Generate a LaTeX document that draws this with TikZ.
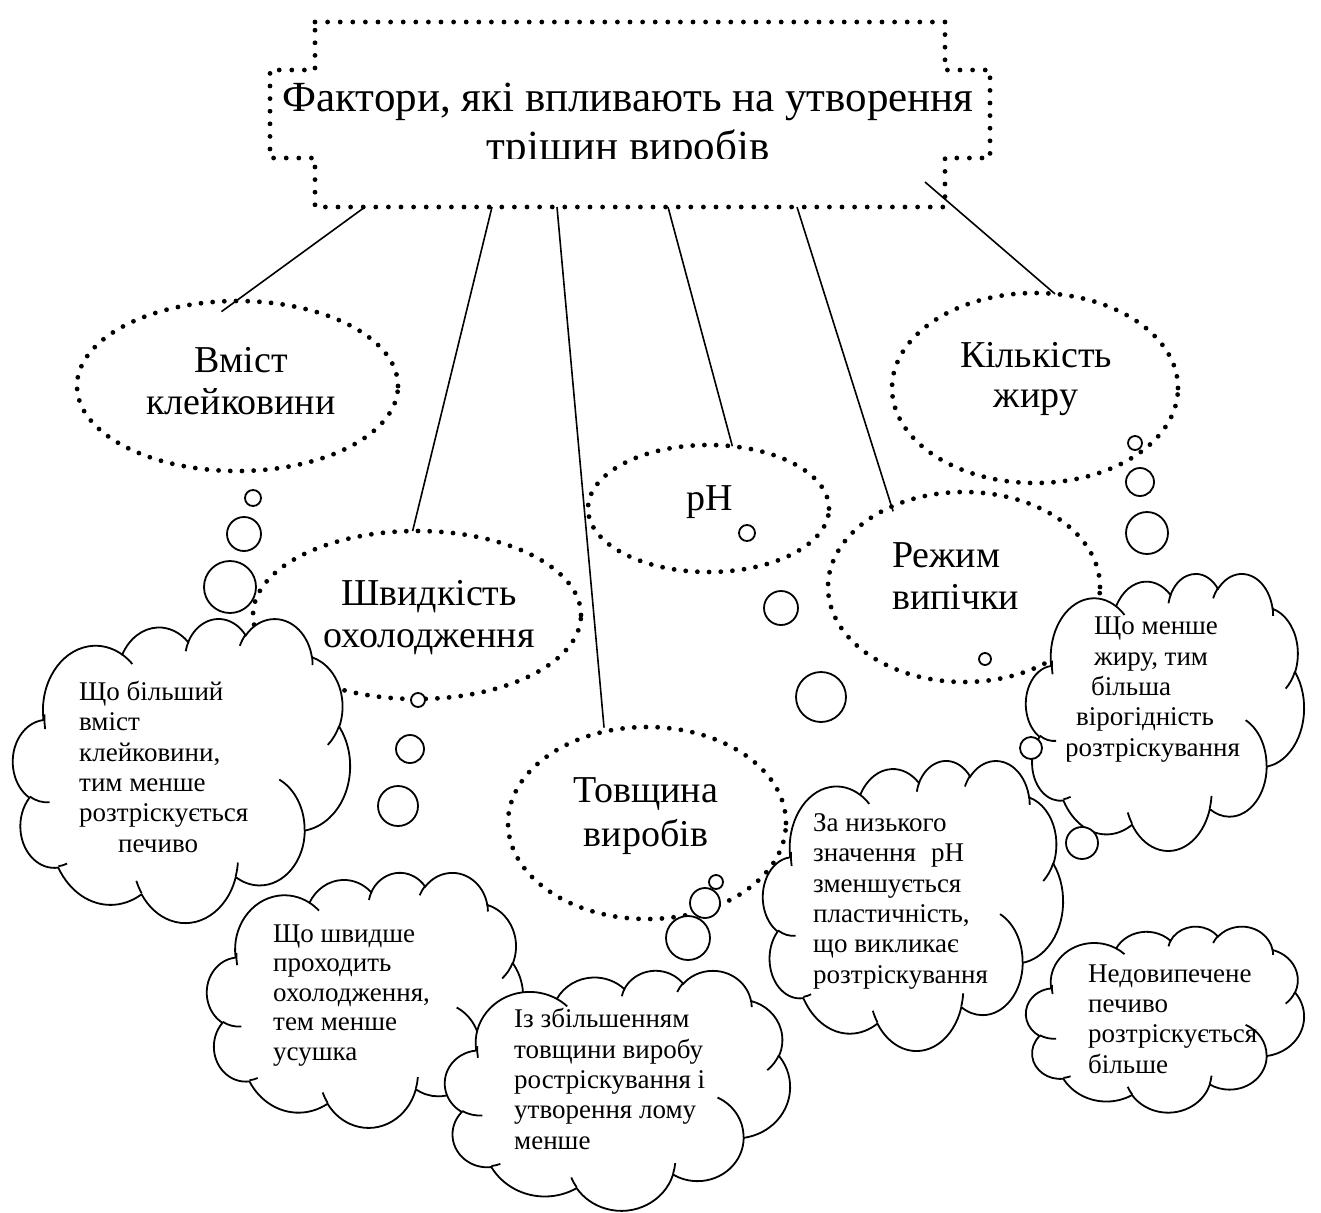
\documentclass[tikz,border=0pt]{standalone}
\usepackage{fontspec}
\setmainfont{Liberation Serif}
\usetikzlibrary{shapes.geometric,calc}

% visual (DrawingML) angles -> parametric angles for TikZ arcs
\newcommand\cldang[5]{%
  \pgfmathsetmacro\cldtmpa{atan2((#2)*sin(#4),(#3)*cos(#4))}%
  \pgfmathsetmacro\cldtmpb{atan2((#2)*sin((#4)+(#5)),(#3)*cos((#4)+(#5)))}%
  \pgfmathsetmacro\cldtmpd{mod((\cldtmpb)-(\cldtmpa)+720,360)}%
  \expandafter\xdef\csname cldS#1\endcsname{\cldtmpa}%
  \expandafter\xdef\csname cldD#1\endcsname{\cldtmpd}%
}
\cldang{A}{67.53}{91.90}{-190.4875}{123.7805}
\cldang{B}{53.33}{72.67}{-144.1024}{89.9452}
\cldang{C}{43.65}{59.45}{-145.8079}{99.7230}
\cldang{D}{48.57}{65.95}{-130.9861}{117.2417}
\cldang{E}{53.33}{72.73}{-78.7089}{109.0269}
\cldang{F}{67.75}{92.20}{-46.2673}{130.2690}
\cldang{G}{57.85}{78.67}{0.6250}{114.0333}
\cldang{H}{67.52}{92.15}{22.4516}{115.1726}
\cldang{I}{77.20}{105.43}{66.2426}{75.7110}
\cldang{J}{43.60}{59.18}{-274.9421}{146.7356}
\cldang{K}{43.45}{59.45}{-246.8285}{152.5189}
\cldang{a}{43.45}{59.45}{86.742}{26.4295}
\cldang{b}{43.60}{59.18}{73.6105}{11.4475}
\cldang{c}{67.52}{92.15}{137.6242}{14.0811}
\cldang{d}{67.52}{92.15}{6.4533}{15.9984}
\cldang{e}{57.85}{78.67}{-70.2924}{70.9174}
\cldang{f}{53.33}{72.73}{30.3180}{27.7515}
\cldang{g}{48.57}{65.95}{-13.7443}{14.8589}
\cldang{h}{48.57}{65.95}{-149.1815}{18.1954}
\cldang{i}{43.65}{59.45}{-163.4943}{17.6864}
\cldang{j}{67.53}{91.90}{-66.7070}{12.3194}
\cldang{k}{67.53}{91.90}{166.2142}{17.8476}

% cloud: x0 y0 width height (y downward)
\newcommand\drawcloud[4]{%
  \begin{scope}[shift={(#1,#2)},xscale=#3/432,yscale=#4/432]
    \draw[cloudline,fill=white] (39.00,143.70)
      arc[start angle=\cldSA, delta angle=\cldDA, x radius=67.53, y radius=91.90]
      arc[start angle=\cldSB, delta angle=\cldDB, x radius=53.33, y radius=72.67]
      arc[start angle=\cldSC, delta angle=\cldDC, x radius=43.65, y radius=59.45]
      arc[start angle=\cldSD, delta angle=\cldDD, x radius=48.57, y radius=65.95]
      arc[start angle=\cldSE, delta angle=\cldDE, x radius=53.33, y radius=72.73]
      arc[start angle=\cldSF, delta angle=\cldDF, x radius=67.75, y radius=92.20]
      arc[start angle=\cldSG, delta angle=\cldDG, x radius=57.85, y radius=78.67]
      arc[start angle=\cldSH, delta angle=\cldDH, x radius=67.52, y radius=92.15]
      arc[start angle=\cldSI, delta angle=\cldDI, x radius=77.20, y radius=105.43]
      arc[start angle=\cldSJ, delta angle=\cldDJ, x radius=43.60, y radius=59.18]
      arc[start angle=\cldSK, delta angle=\cldDK, x radius=43.45, y radius=59.45]
      -- cycle;
    \draw[cloudline]
      (46.93,261.77) arc[start angle=\cldSa, delta angle=\cldDa, x radius=43.45, y radius=59.45]
      (69.28,348.99) arc[start angle=\cldSb, delta angle=\cldDb, x radius=43.60, y radius=59.18]
      (164.78,390.90) arc[start angle=\cldSc, delta angle=\cldDc, x radius=67.52, y radius=92.15]
      (288.27,347.51) arc[start angle=\cldSd, delta angle=\cldDd, x radius=67.52, y radius=92.15]
      (341.29,229.54) arc[start angle=\cldSe, delta angle=\cldDe, x radius=57.85, y radius=78.67]
      (417.98,153.54) arc[start angle=\cldSf, delta angle=\cldDf, x radius=53.33, y radius=72.73]
      (383.24,54.26) arc[start angle=\cldSg, delta angle=\cldDg, x radius=48.57, y radius=65.95]
      (290.78,39.52) arc[start angle=\cldSh, delta angle=\cldDh, x radius=48.57, y radius=65.95]
      (221.41,47.20) arc[start angle=\cldSi, delta angle=\cldDi, x radius=43.65, y radius=59.45]
      (140.00,51.92) arc[start angle=\cldSj, delta angle=\cldDj, x radius=67.53, y radius=91.90]
      (41.27,157.89) arc[start angle=\cldSk, delta angle=\cldDk, x radius=67.53, y radius=91.90];
  \end{scope}}

\begin{document}
\begin{tikzpicture}[x=1pt,y=1pt,yscale=-1,
  dotline/.style={line width=4.8pt, line cap=round, dash pattern=on 0pt off 11.7pt},
  dotell/.style={ellipse, draw, dotline, inner sep=0pt, outer sep=0pt},
  conn/.style={line width=1.6pt},
  cloudline/.style={line width=1.8pt},
  bubble/.style={cloudline, fill=white},
  titletext/.style={font=\fontsize{43}{49}\selectfont, align=center, anchor=base, inner sep=0pt},
  elltext/.style={font=\fontsize{38}{42}\selectfont, align=center, anchor=base, inner sep=0pt},
  cloudtext/.style={font=\fontsize{27}{30.3}\selectfont, align=left, anchor=base west, inner sep=0pt},
]
\useasboundingbox (0,0) rectangle (1321,1212);
% (multi-line text nodes: anchor = baseline of the last line)

% ---------- title plaque ----------
\node[minimum width=630pt, minimum height=185pt, inner sep=0pt, outer sep=0pt] (title) at (630,114.5) {};
\draw[dotline, dash pattern=on 0pt off 12.6pt]
  (315,22) -- (945,22) -- (945,70) -- (990,70) -- (990,158) -- (945,158) -- (945,207)
  -- (315,207) -- (315,158) -- (270,158) -- (270,70) -- (315,70) -- cycle;
\begin{scope}
  \clip (200,0) rectangle (1100,158);
  \node[titletext] (titletxt) at (628,160) {Фактори, які впливають на утворення\\тріщин виробів};
\end{scope}

% ---------- dotted ellipses ----------
\node[dotell, minimum width=321pt, minimum height=170pt] (vmist) at (237.5,386) {};
\node[dotell, minimum width=328pt, minimum height=168pt] (shvyd) at (417,615) {};
\node[dotell, minimum width=241pt, minimum height=127pt] (ph) at (708.5,508.5) {};
\node[dotell, minimum width=278pt, minimum height=192pt] (tovsh) at (647,823) {};
\node[dotell, minimum width=272pt, minimum height=190pt] (rezh) at (964,587) {};
\node[dotell, minimum width=286pt, minimum height=190pt] (kilk) at (1035,388) {};

\node[elltext] (vmistT) at (241,414) {Вміст\\клейковини};
\node[elltext] (shvydT) at (429,647) {Швидкість\\охолодження};
\node[elltext] (phT) at (709.5,510) {pH};
\node[elltext, font=\fontsize{38}{44}\selectfont] (tovshT) at (646,846) {Товщина\\виробів};
\node[elltext, align=left, anchor=base west] (rezhT) at (892,609) {Режим\\випічки};
\node[elltext, font=\fontsize{38}{40}\selectfont] (kilkT) at (1036,407) {Кількість\\жиру};

% ---------- connectors ----------
\coordinate (s1) at (365,207);
\coordinate (s2) at (492,207);
\coordinate (s3) at (557,207);
\coordinate (s4) at (668,207);
\coordinate (s5) at (797,207);
\coordinate (s6) at (925,182);
\draw[conn, shorten >=-18pt] (s1) -- (vmist.91);
\draw[conn] (s2) -- (shvyd.93);
\draw[conn, shorten >=4pt] (s3) -- (tovsh.115);
\draw[conn] (s4) -- (ph.69);
\draw[conn, shorten >=-5pt] (s5) -- (rezh.132);
\draw[conn] (s6) -- (kilk.78);

% ---------- thought clouds ----------
% 1
\draw[bubble] (253,498) circle[radius=8];
\draw[bubble] (244,534) circle[radius=17];
\draw[bubble] (230,587) circle[radius=26];
\drawcloud{13}{618}{337}{304}
\node[cloudtext] (c1T) at (79,852) {Що більший\\вміст\\клейковини,\\тим менше\\розтріскується\\\hspace*{39pt}печиво};
% 2
\draw[bubble] (418,700) circle[radius=7];
\draw[bubble] (410,749) circle[radius=14];
\draw[bubble] (398,806) circle[radius=20];
\drawcloud{207}{872}{316}{255}
\node[cloudtext, font=\fontsize{27}{29.5}\selectfont] (c2T) at (273,1060) {Що швидше\\проходить\\охолодження,\\тем менше\\усушка};
% 3
\draw[bubble] (716,882) circle[radius=7];
\draw[bubble] (705,903) circle[radius=15];
\draw[bubble] (688,938) circle[radius=22];
\drawcloud{445}{970}{345}{240}
\node[cloudtext] (c3T) at (514,1149) {Із збільшенням\\товщини виробу\\ростріскування і\\утворення лому\\менше};
% 4
\draw[bubble] (747,533) circle[radius=8];
\draw[bubble] (781,608) circle[radius=17];
\draw[bubble] (821,697) circle[radius=25];
\drawcloud{763}{760}{300}{290}
\node[cloudtext] (c4T) at (813,983) {За низького\\значення\hspace{15pt}pH\\зменшується\\пластичність,\\що викликає\\розтріскування};
% 5
\draw[bubble] (1135,443) circle[radius=7];
\draw[bubble] (1140,482) circle[radius=14];
\draw[bubble] (1147,533) circle[radius=21];
\drawcloud{1026}{573}{278}{277}
\begin{scope}
  \clip (1067,560) rectangle (1321,860);
  \node[cloudtext] (c5T) at (1065,756) {\hspace*{29pt}Що менше\\\hspace*{29pt}жиру, тим\\\hspace*{26pt}більша\\\hspace*{11pt}вірогідність\\розтріскування};
\end{scope}
% 6
\draw[bubble] (985,659) circle[radius=6];
\draw[bubble] (1031,748) circle[radius=11];
\draw[bubble] (1082,843) circle[radius=16];
\drawcloud{1026}{926}{278}{186}
\node[cloudtext] (c6T) at (1088,1073) {Недовипечене\\печиво\\розтріскується\\більше};
\end{tikzpicture}
\end{document}
